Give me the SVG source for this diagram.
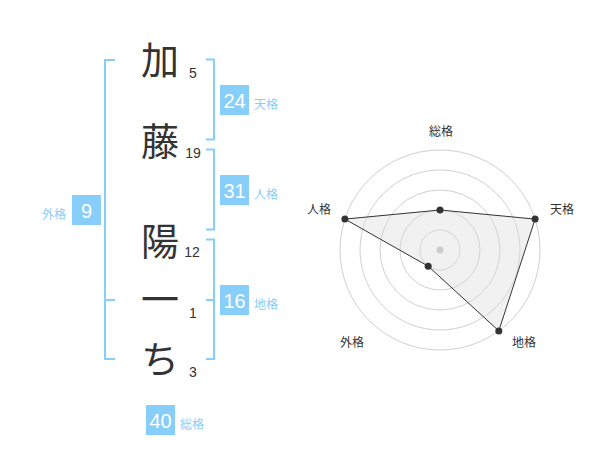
<svg xmlns="http://www.w3.org/2000/svg" width="600" height="470" viewBox="0 0 600 470">
<style>
.br{fill:none;stroke:#87cefa;stroke-width:2}
.ch{font-family:"Noto Sans CJK JP","Noto Sans CJK SC",sans-serif;font-size:38px;fill:#333;text-anchor:middle}
.num{font-family:"Liberation Sans",Arial,sans-serif;font-size:14px;fill:#333;text-anchor:middle}
.box{fill:#87cefa}
.bv{font-family:"Liberation Sans",Arial,sans-serif;font-size:20px;fill:#fff;text-anchor:middle}
.bl{font-family:"Noto Sans CJK JP","Noto Sans CJK SC",sans-serif;font-size:12px;fill:#87cefa}
.rl{font-family:"Noto Sans CJK JP","Noto Sans CJK SC",sans-serif;font-size:12px;fill:#333;text-anchor:middle}
.ring{fill:none;stroke:#d0d0d0;stroke-width:1}
.pt{fill:#333}
</style>
<rect width="600" height="470" fill="#fff"/>
<g id="connectors">
<path class="br" d="M115,60 H105 V359 H115 M105,300 H115"/>
<path class="br" d="M206,59.5 H214 V139.5 H206"/>
<path class="br" d="M206,149.5 H214 V229.5 H206"/>
<path class="br" d="M206,239.5 H214 V359 H206 M206,300 H214"/>
</g>
<g id="name">
<g id="char1"><text class="ch" x="160" y="74">加</text><text class="num" x="193" y="77.5">5</text></g>
<g id="char2"><text class="ch" x="160" y="154.5">藤</text><text class="num" x="193" y="157.5">19</text></g>
<g id="char3"><text class="ch" x="160" y="254.5">陽</text><text class="num" x="192" y="257">12</text></g>
<g id="char4"><text class="ch" x="160" y="313">一</text><text class="num" x="193" y="318">1</text></g>
<g id="char5"><text class="ch" x="160" y="373">ち</text><text class="num" x="193" y="377">3</text></g>
</g>
<g id="tenkaku"><rect class="box" x="220" y="85" width="29" height="30"/><text class="bv" x="234.5" y="107.5">24</text><text class="bl" x="254" y="109">天格</text></g>
<g id="jinkaku"><rect class="box" x="220" y="175" width="29" height="30"/><text class="bv" x="234.5" y="197.5">31</text><text class="bl" x="254" y="199">人格</text></g>
<g id="chikaku"><rect class="box" x="220" y="285" width="29" height="30"/><text class="bv" x="234.5" y="307.5">16</text><text class="bl" x="254" y="309">地格</text></g>
<g id="gaikaku"><rect class="box" x="72" y="195" width="29" height="30"/><text class="bv" x="86.5" y="217.5">9</text><text class="bl" x="66" y="219" text-anchor="end">外格</text></g>
<g id="soukaku"><rect class="box" x="146" y="405" width="29" height="30"/><text class="bv" x="160.5" y="427.5">40</text><text class="bl" x="180" y="429">総格</text></g>
<g id="radar">
<circle class="ring" cx="440" cy="250" r="20"/>
<circle class="ring" cx="440" cy="250" r="40"/>
<circle class="ring" cx="440" cy="250" r="60"/>
<circle class="ring" cx="440" cy="250" r="80"/>
<circle class="ring" cx="440" cy="250" r="100"/>
<polygon points="440,210 535.1,219.1 498.8,330.9 428.2,266.2 344.9,219.1" fill="#dcdcdc" fill-opacity="0.4" stroke="#333" stroke-width="1"/>
<circle cx="440" cy="250" r="3.5" fill="#ccc"/>
<circle class="pt" cx="440" cy="210" r="3.5"/>
<circle class="pt" cx="535.1" cy="219.1" r="3.5"/>
<circle class="pt" cx="498.8" cy="330.9" r="3.5"/>
<circle class="pt" cx="428.2" cy="266.2" r="3.5"/>
<circle class="pt" cx="344.9" cy="219.1" r="3.5"/>
<text class="rl" x="441" y="136">総格</text>
<text class="rl" x="562" y="214">天格</text>
<text class="rl" x="524" y="347">地格</text>
<text class="rl" x="352" y="347">外格</text>
<text class="rl" x="319" y="214">人格</text>
</g>
</svg>
